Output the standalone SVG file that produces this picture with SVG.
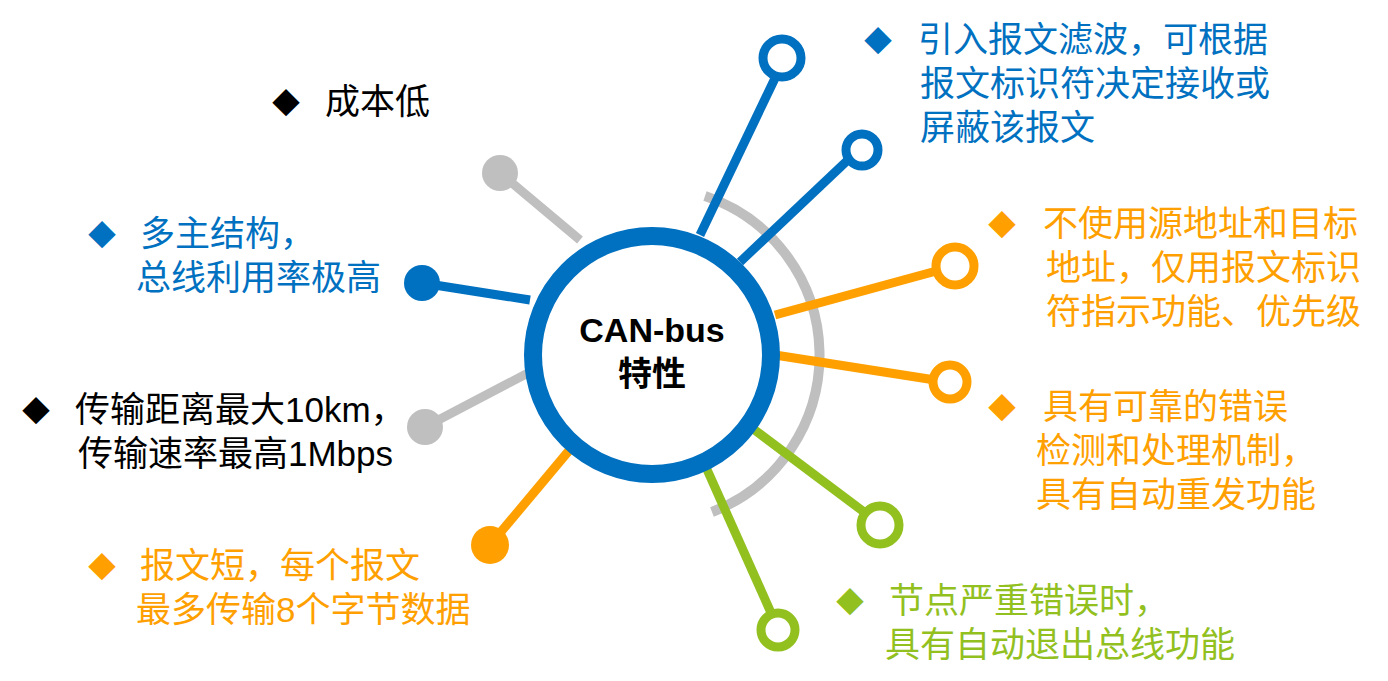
<svg xmlns="http://www.w3.org/2000/svg" width="1388" height="681" viewBox="0 0 1388 681">
<style>
text{font-family:"Liberation Sans","Noto Sans CJK SC",sans-serif;font-size:35px}
.d{font-size:28px}
.b{fill:#0070C0}.o{fill:#FFA000}.g{fill:#92C01F}.k{fill:#000}
.lb{stroke:#0070C0}.lo{stroke:#FFA000}.lg{stroke:#92C01F}.lk{stroke:#BFBFBF}
line{stroke-width:9}
.ring{fill:#fff;stroke-width:9}
</style>
<rect width="1388" height="681" fill="#fff"/>
<g id="connectors">
<path d="M705,196 A168,168 0 0 1 712,512" fill="none" stroke="#BFBFBF" stroke-width="10"/>
<line class="lb" x1="700" y1="235" x2="778" y2="72"/>
<line class="lb" x1="740" y1="262" x2="850" y2="158"/>
<line class="lo" x1="775" y1="315" x2="940" y2="270"/>
<line class="lo" x1="775" y1="355" x2="935" y2="380"/>
<line class="lg" x1="748" y1="425" x2="868" y2="515"/>
<line class="lg" x1="705" y1="465" x2="772" y2="615"/>
<line class="lo" x1="572" y1="447" x2="490" y2="545"/>
<line class="lk" x1="528" y1="373" x2="425" y2="427"/>
<line class="lb" x1="530" y1="300" x2="422" y2="283"/>
<line class="lk" x1="580" y1="240" x2="500" y2="173"/>
</g>
<g id="hub"><circle cx="652" cy="355" r="119" fill="#fff" stroke="#0070C0" stroke-width="18"/>
<text x="652" y="342" text-anchor="middle" font-weight="bold" style="font-size:34px">CAN-bus</text>
<text x="652" y="386" text-anchor="middle" font-weight="bold" style="font-size:34px">特性</text></g>
<g id="ends">
<circle class="ring lb" cx="782" cy="58" r="19"/>
<circle class="ring lb" cx="862" cy="150" r="16"/>
<circle class="ring lo" cx="955" cy="266" r="19"/>
<circle class="ring lo" cx="950" cy="382" r="17"/>
<circle class="ring lg" cx="880" cy="525" r="19"/>
<circle class="ring lg" cx="778" cy="630" r="17"/>
<circle cx="490" cy="545" r="19" fill="#FFA000"/>
<circle cx="425" cy="427" r="18" fill="#BFBFBF"/>
<circle cx="422" cy="283" r="18" fill="#0070C0"/>
<circle cx="500" cy="173" r="18" fill="#BFBFBF"/>
</g>
<g id="t1" class="b"><text class="d" x="864" y="52">◆</text><text x="918" y="52">引入报文滤波，可根据</text><text x="920" y="96">报文标识符决定接收或</text><text x="920" y="140">屏蔽该报文</text></g>
<g id="t2" class="o"><text class="d" x="988" y="236">◆</text><text x="1043" y="236">不使用源地址和目标</text><text x="1046" y="280">地址，仅用报文标识</text><text x="1046" y="324">符指示功能、优先级</text></g>
<g id="t3" class="o"><text class="d" x="988" y="419">◆</text><text x="1043" y="419">具有可靠的错误</text><text x="1036" y="463">检测和处理机制，</text><text x="1036" y="507">具有自动重发功能</text></g>
<g id="t4" class="g"><text class="d" x="836" y="613">◆</text><text x="889" y="613">节点严重错误时，</text><text x="885" y="657">具有自动退出总线功能</text></g>
<g id="t5" class="k"><text class="d" x="272" y="114">◆</text><text x="325" y="114">成本低</text></g>
<g id="t6" class="b"><text class="d" x="88" y="246">◆</text><text x="140" y="246">多主结构，</text><text x="136" y="290">总线利用率极高</text></g>
<g id="t7" class="k"><text class="d" x="22" y="422">◆</text><text x="75" y="422">传输距离最大10km，</text><text x="78" y="466">传输速率最高1Mbps</text></g>
<g id="t8" class="o"><text class="d" x="88" y="578">◆</text><text x="140" y="578">报文短，每个报文</text><text x="136" y="622">最多传输8个字节数据</text></g>
</svg>
